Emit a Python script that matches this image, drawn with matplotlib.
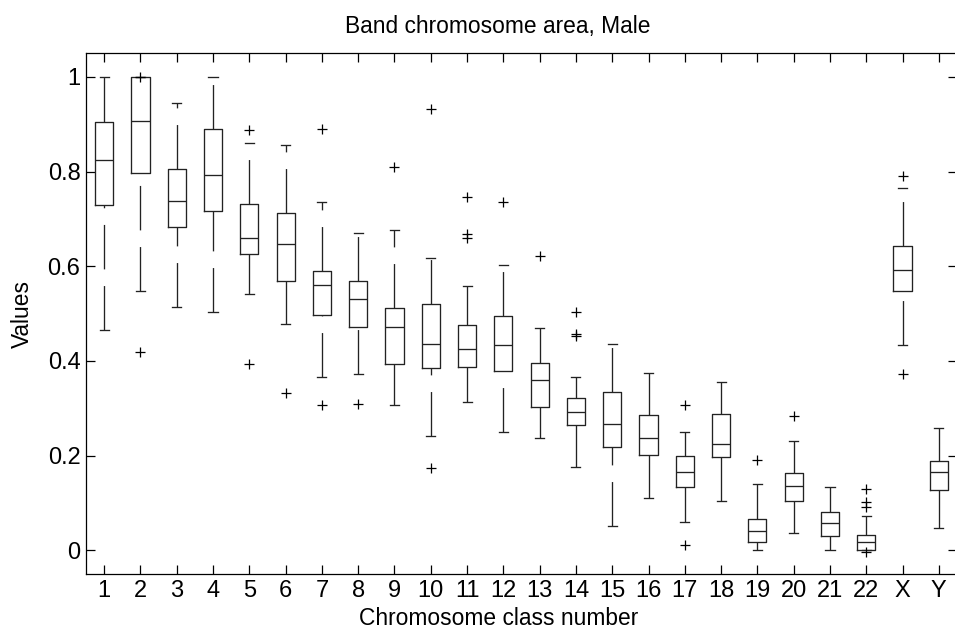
import matplotlib
matplotlib.use("Agg")
import matplotlib.pyplot as plt

plt.rcParams['font.family'] = ['Liberation Sans', 'DejaVu Sans']
plt.rcParams['lines.scale_dashes'] = False

labels = ['1', '2', '3', '4', '5', '6', '7', '8', '9', '10', '11', '12', '13', '14',
          '15', '16', '17', '18', '19', '20', '21', '22', 'X', 'Y']
whishi = [1.000, 1.000, 0.945, 1.000, 0.860, 0.856, 0.735, 0.670, 0.676, 0.617, 0.559, 0.603,
          0.469, 0.367, 0.436, 0.374, 0.251, 0.355, 0.141, 0.231, 0.133, 0.072, 0.765, 0.259]
q3 = [0.905, 1.000, 0.806, 0.890, 0.731, 0.713, 0.591, 0.568, 0.511, 0.521, 0.476, 0.496,
      0.396, 0.322, 0.335, 0.285, 0.199, 0.289, 0.067, 0.163, 0.080, 0.032, 0.642, 0.188]
med = [0.825, 0.908, 0.738, 0.792, 0.660, 0.648, 0.561, 0.530, 0.471, 0.436, 0.426, 0.434,
       0.360, 0.292, 0.267, 0.237, 0.166, 0.224, 0.040, 0.136, 0.058, 0.017, 0.592, 0.166]
q1 = [0.729, 0.797, 0.683, 0.716, 0.625, 0.568, 0.497, 0.471, 0.393, 0.385, 0.388, 0.378,
      0.302, 0.264, 0.219, 0.202, 0.133, 0.197, 0.017, 0.105, 0.030, 0.000, 0.547, 0.128]
whislo = [0.466, 0.548, 0.514, 0.504, 0.542, 0.479, 0.367, 0.373, 0.307, 0.241, 0.313, 0.249,
          0.237, 0.176, 0.052, 0.110, 0.060, 0.105, 0.000, 0.037, 0.000, 0.000, 0.434, 0.047]
outliers = [[], [0.418, 1.000], [], [], [0.887, 0.393], [0.332], [0.891, 0.307], [0.309],
            [0.809], [0.932, 0.174], [0.747, 0.669, 0.660], [0.736], [0.622],
            [0.504, 0.457, 0.452], [], [], [0.307, 0.012], [], [0.190], [0.284], [],
            [0.129, 0.102, 0.091, -0.003], [0.791, 0.373], []]

positions = list(range(1, len(labels) + 1))
stats = []
for i in range(len(labels)):
    stats.append(dict(med=med[i], q1=q1[i], q3=q3[i], whislo=whislo[i], whishi=whishi[i],
                      fliers=outliers[i], label=labels[i]))

W, H = 955, 635
fig = plt.figure(figsize=(W / 100, H / 100), dpi=100)
ax = fig.add_axes([86 / W, (H - 574) / H, 871 / W, 520.7 / H])

lc = '#222222'
lw = 0.95
ax.bxp(stats, positions=positions, widths=0.5, showfliers=True,
       boxprops=dict(color=lc, linewidth=lw),
       medianprops=dict(color=lc, linewidth=lw),
       whiskerprops=dict(linestyle='none'),
       capprops=dict(color=lc, linewidth=lw),
       capwidths=0.25,
       flierprops=dict(marker='+', markersize=7, markeredgecolor='black',
                       markeredgewidth=0.9, linestyle='none'),
       manage_ticks=False)

dash = (0, (32, 12))
for p, lo, a, b, hi in zip(positions, whislo, q1, q3, whishi):
    if b < hi:
        ax.plot([p, p], [b, hi], color=lc, linewidth=lw, linestyle=dash)
    if lo < a:
        ax.plot([p, p], [lo, a], color=lc, linewidth=lw, linestyle=dash)

ax.set_xlim(0.5, 24.5)
ax.set_ylim(-0.05, 1.05)
ax.set_xticks(positions)
ax.set_xticklabels(labels)
yt = [0, 0.2, 0.4, 0.6, 0.8, 1.0]
ax.set_yticks(yt)
ax.set_yticklabels(['0', '0.2', '0.4', '0.6', '0.8', '1'])
ax.tick_params(direction='in', length=6.5, width=0.9, top=True, right=True,
               labelsize=17, pad=4, colors='black')
for s in ax.spines.values():
    s.set_linewidth(0.9)

fig.text(498 / W, 1 - 33 / H, 'Band chromosome area, Male', ha='center', va='baseline',
         fontsize=16.4)
fig.text(499 / W, 1 - 625 / H, 'Chromosome class number', ha='center', va='baseline',
         fontsize=16.4)
fig.text(22 / W, 1 - 314 / H, 'Values', ha='center', va='center', rotation=90,
         fontsize=16.4)

fig.savefig('out.png', dpi=100)
